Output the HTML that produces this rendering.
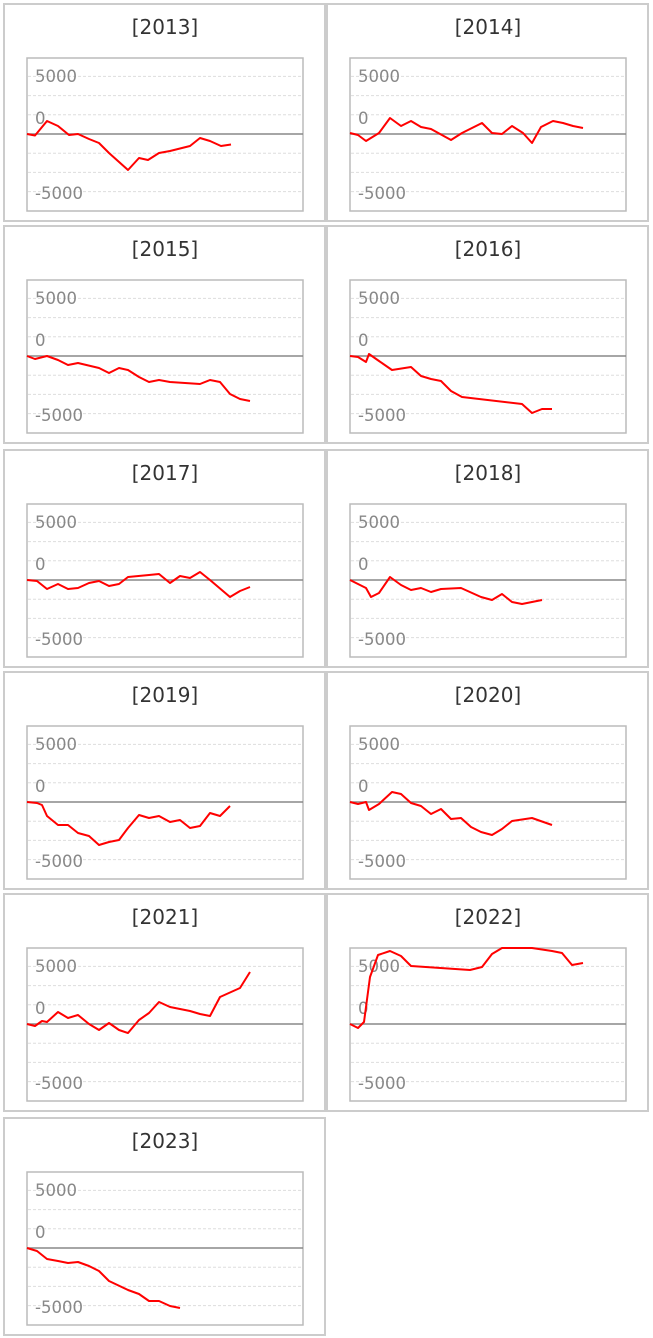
<!DOCTYPE html><html><head><meta charset="utf-8"><style>body{margin:0;background:#fff}svg{display:block}</style></head><body>
<svg width="653" height="1338" xmlns="http://www.w3.org/2000/svg" font-family="DejaVu Sans, Liberation Sans, sans-serif">
<defs>
<g id="p">
<rect x="4" y="-130" width="321" height="217" fill="#fff" stroke="#ccc" stroke-width="2"/>
<rect x="27" y="-76" width="276" height="153" fill="#fff" stroke="#bbb" stroke-width="1.5"/>
<g stroke="#ddd" stroke-dasharray="3,2" stroke-width="1">
<line x1="28" x2="302" y1="-57.6" y2="-57.6"/><line x1="28" x2="302" y1="-38.4" y2="-38.4"/><line x1="28" x2="302" y1="-19.2" y2="-19.2"/>
<line x1="28" x2="302" y1="19.2" y2="19.2"/><line x1="28" x2="302" y1="38.4" y2="38.4"/><line x1="28" x2="302" y1="57.6" y2="57.6"/></g>
<line x1="27" x2="303" y1="0" y2="0" stroke="#888" stroke-width="1.5"/>
</g>
</defs>
<g fill="#888" font-size="16.5">
<g transform="translate(0,134)"><use href="#p"/><text x="35" y="-52">5000</text><text x="35" y="-10">0</text><text x="35" y="65">-5000</text><text x="165" y="-100" font-size="20" fill="#333" text-anchor="middle">[2013]</text></g>
<g transform="translate(323,134)"><use href="#p"/><text x="35" y="-52">5000</text><text x="35" y="-10">0</text><text x="35" y="65">-5000</text><text x="165" y="-100" font-size="20" fill="#333" text-anchor="middle">[2014]</text></g>
<g transform="translate(0,356)"><use href="#p"/><text x="35" y="-52">5000</text><text x="35" y="-10">0</text><text x="35" y="65">-5000</text><text x="165" y="-100" font-size="20" fill="#333" text-anchor="middle">[2015]</text></g>
<g transform="translate(323,356)"><use href="#p"/><text x="35" y="-52">5000</text><text x="35" y="-10">0</text><text x="35" y="65">-5000</text><text x="165" y="-100" font-size="20" fill="#333" text-anchor="middle">[2016]</text></g>
<g transform="translate(0,580)"><use href="#p"/><text x="35" y="-52">5000</text><text x="35" y="-10">0</text><text x="35" y="65">-5000</text><text x="165" y="-100" font-size="20" fill="#333" text-anchor="middle">[2017]</text></g>
<g transform="translate(323,580)"><use href="#p"/><text x="35" y="-52">5000</text><text x="35" y="-10">0</text><text x="35" y="65">-5000</text><text x="165" y="-100" font-size="20" fill="#333" text-anchor="middle">[2018]</text></g>
<g transform="translate(0,802)"><use href="#p"/><text x="35" y="-52">5000</text><text x="35" y="-10">0</text><text x="35" y="65">-5000</text><text x="165" y="-100" font-size="20" fill="#333" text-anchor="middle">[2019]</text></g>
<g transform="translate(323,802)"><use href="#p"/><text x="35" y="-52">5000</text><text x="35" y="-10">0</text><text x="35" y="65">-5000</text><text x="165" y="-100" font-size="20" fill="#333" text-anchor="middle">[2020]</text></g>
<g transform="translate(0,1024)"><use href="#p"/><text x="35" y="-52">5000</text><text x="35" y="-10">0</text><text x="35" y="65">-5000</text><text x="165" y="-100" font-size="20" fill="#333" text-anchor="middle">[2021]</text></g>
<g transform="translate(323,1024)"><use href="#p"/><text x="35" y="-52">5000</text><text x="35" y="-10">0</text><text x="35" y="65">-5000</text><text x="165" y="-100" font-size="20" fill="#333" text-anchor="middle">[2022]</text></g>
<g transform="translate(0,1248)"><use href="#p"/><text x="35" y="-52">5000</text><text x="35" y="-10">0</text><text x="35" y="65">-5000</text><text x="165" y="-100" font-size="20" fill="#333" text-anchor="middle">[2023]</text></g>
</g>
<g fill="none" stroke="#f00" stroke-width="2" stroke-linejoin="round">
<polyline points="27,134 35,135.5 47,121 58,126 69,135 78,134 89,139 99,143 109,153 128,170 139,158 148,160 159,153 170,151 190,146 200,138 210,141 221,146 231,144.5"/>
<polyline points="350,133 358,135 366,141 379,133 390,118 401,126 411,121 421,127 431,129 451,140 462,133 482,123 492,133 502,134 512,126 523,133 532,143 541,127 553,121 563,123 573,126 583,128"/>
<polyline points="27,356 35,359 47,356 58,360 68,365 78,363 99,368 109,373 119,368 128,370 139,377 149,382 159,380 170,382 200,384 210,380 220,382 230,394 240,399 250,401"/>
<polyline points="350,356 358,357 366,362 369,354 379,361 392,370 411,367 421,376 431,379 441,381 451,391 462,397 522,404 532,413 542,409 552,409"/>
<polyline points="27,580 37,581 47,589 58,584 68,589 78,588 89,583 99,581 109,586 119,584 128,577 149,575 159,574 170,583 180,576 190,578 200,572 210,580 230,597 240,591 250,587"/>
<polyline points="350,580 358,584 366,588 371,597 379,593 390,577 401,585 411,590 421,588 431,592 441,589 461,588 481,597 492,600 502,594 512,602 522,604 542,600"/>
<polyline points="27,802 37,803 42,805 47,816 58,825 68,825 78,833 89,836 99,845 109,842 119,840 128,828 139,815 149,818 159,816 170,822 180,820 190,828 200,826 210,813 220,816 230,806"/>
<polyline points="350,802 358,804 366,802 369,810 379,804 392,792 401,794 411,803 421,806 431,814 441,809 451,819 461,818 471,827 481,832 492,835 502,829 512,821 532,818 552,825"/>
<polyline points="27,1024 35,1026 42,1021 47,1022 58,1012 68,1018 78,1015 89,1024 99,1030 109,1023 119,1030 128,1033 139,1020 149,1013 159,1002 170,1007 190,1011 200,1014 210,1016 220,997 240,988 250,972"/>
<polyline points="350,1024 358,1028 364,1022 370,977 378,955 390,951 401,956 411,966 470,970 482,967 492,954 502,948 532,948 552,951 562,953 572,965 583,963"/>
<polyline points="27,1248 37,1251 47,1259 58,1261 68,1263 78,1262 89,1266 99,1271 109,1281 128,1290 139,1294 149,1301 159,1301 170,1306 180,1308"/>
</g>
</svg>
</body></html>
